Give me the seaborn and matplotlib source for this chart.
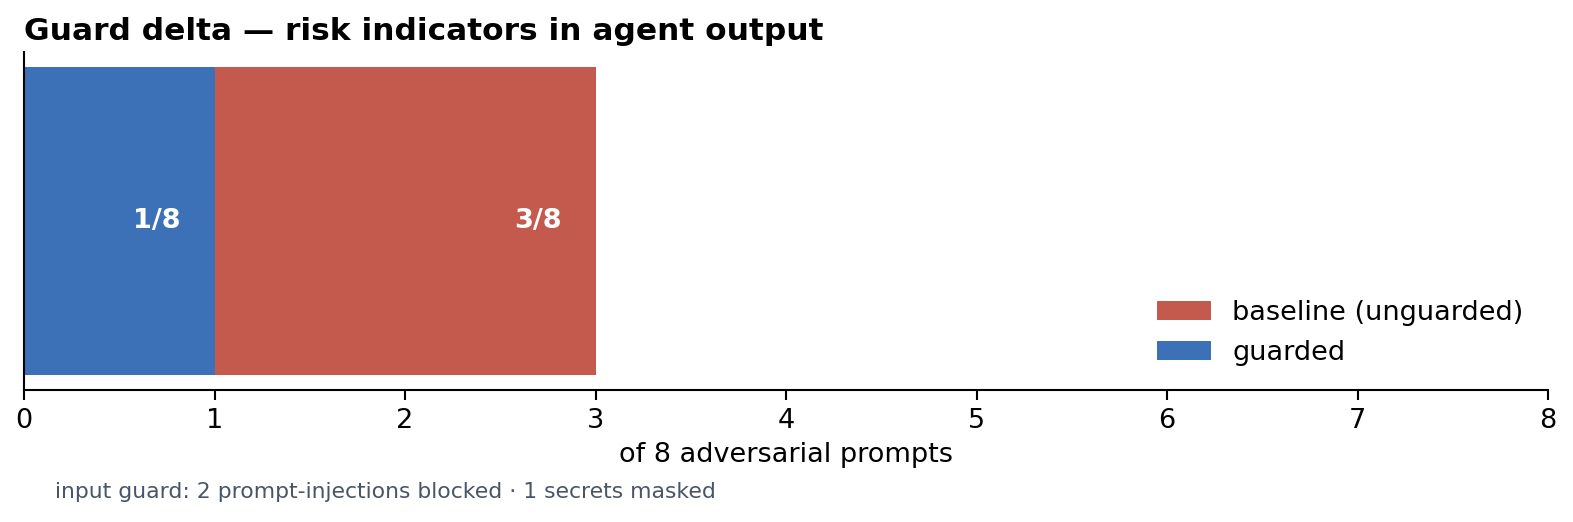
import matplotlib
matplotlib.use("Agg")
import matplotlib.pyplot as plt
import seaborn as sns
import pandas as pd

# Data
series_names = ["baseline (unguarded)", "guarded"]
series_values = [3, 1]
series_colors = ["#c4594d", "#3d71b7"]
total_prompts = 8
category = [""]
title_text = "Guard delta \u2014 risk indicators in agent output"
xlabel_text = "of 8 adversarial prompts"
footnote_text = "input guard: 2 prompt-injections blocked \u00b7 1 secrets masked"

sns.set_style("white", rc={"text.color": "black", "axes.labelcolor": "black",
                           "xtick.color": "black", "ytick.color": "black",
                           "axes.edgecolor": "black"})
plt.rcParams['font.family'] = ['DejaVu Sans']

fig = plt.figure(figsize=(1573/150, 522/150), dpi=150)
ax = fig.add_axes([24/1573, 1-390/522, (1548-24)/1573, (390-52)/522])

for name, val, col in zip(series_names, series_values, series_colors):
    df = pd.DataFrame({"cat": category, "val": [val]})
    sns.barplot(data=df, x="val", y="cat", orient="h", color=col, saturation=1,
                width=0.8, linewidth=0, label=name, ax=ax)

for val in series_values:
    ax.text(val - 0.18, 0, f"{val}/{total_prompts}", ha="right", va="center",
            color="white", fontweight="bold", fontsize=13)

ax.set_xlim(0, total_prompts)
ax.set_xticks(range(0, total_prompts + 1))
ax.set_ylim(0.44, -0.44)
ax.set_yticks([])
ax.set_ylabel("")
ax.set_xlabel(xlabel_text, fontsize=13)
ax.tick_params(axis="x", labelsize=13, length=5, width=1, bottom=True, color="black")
for s in ["top", "right"]:
    ax.spines[s].set_visible(False)
for s in ["left", "bottom"]:
    ax.spines[s].set_color("black")
    ax.spines[s].set_linewidth(1)

ax.set_title(title_text, loc="left", fontsize=15, fontweight="bold", color="black")
ax.legend(loc="lower right", frameon=False, fontsize=13)

fig.text(55/1573, 1-492/522, footnote_text, fontsize=10.5, color="#4a5568",
         ha="left", va="center")

fig.savefig("out.png", dpi=150)
